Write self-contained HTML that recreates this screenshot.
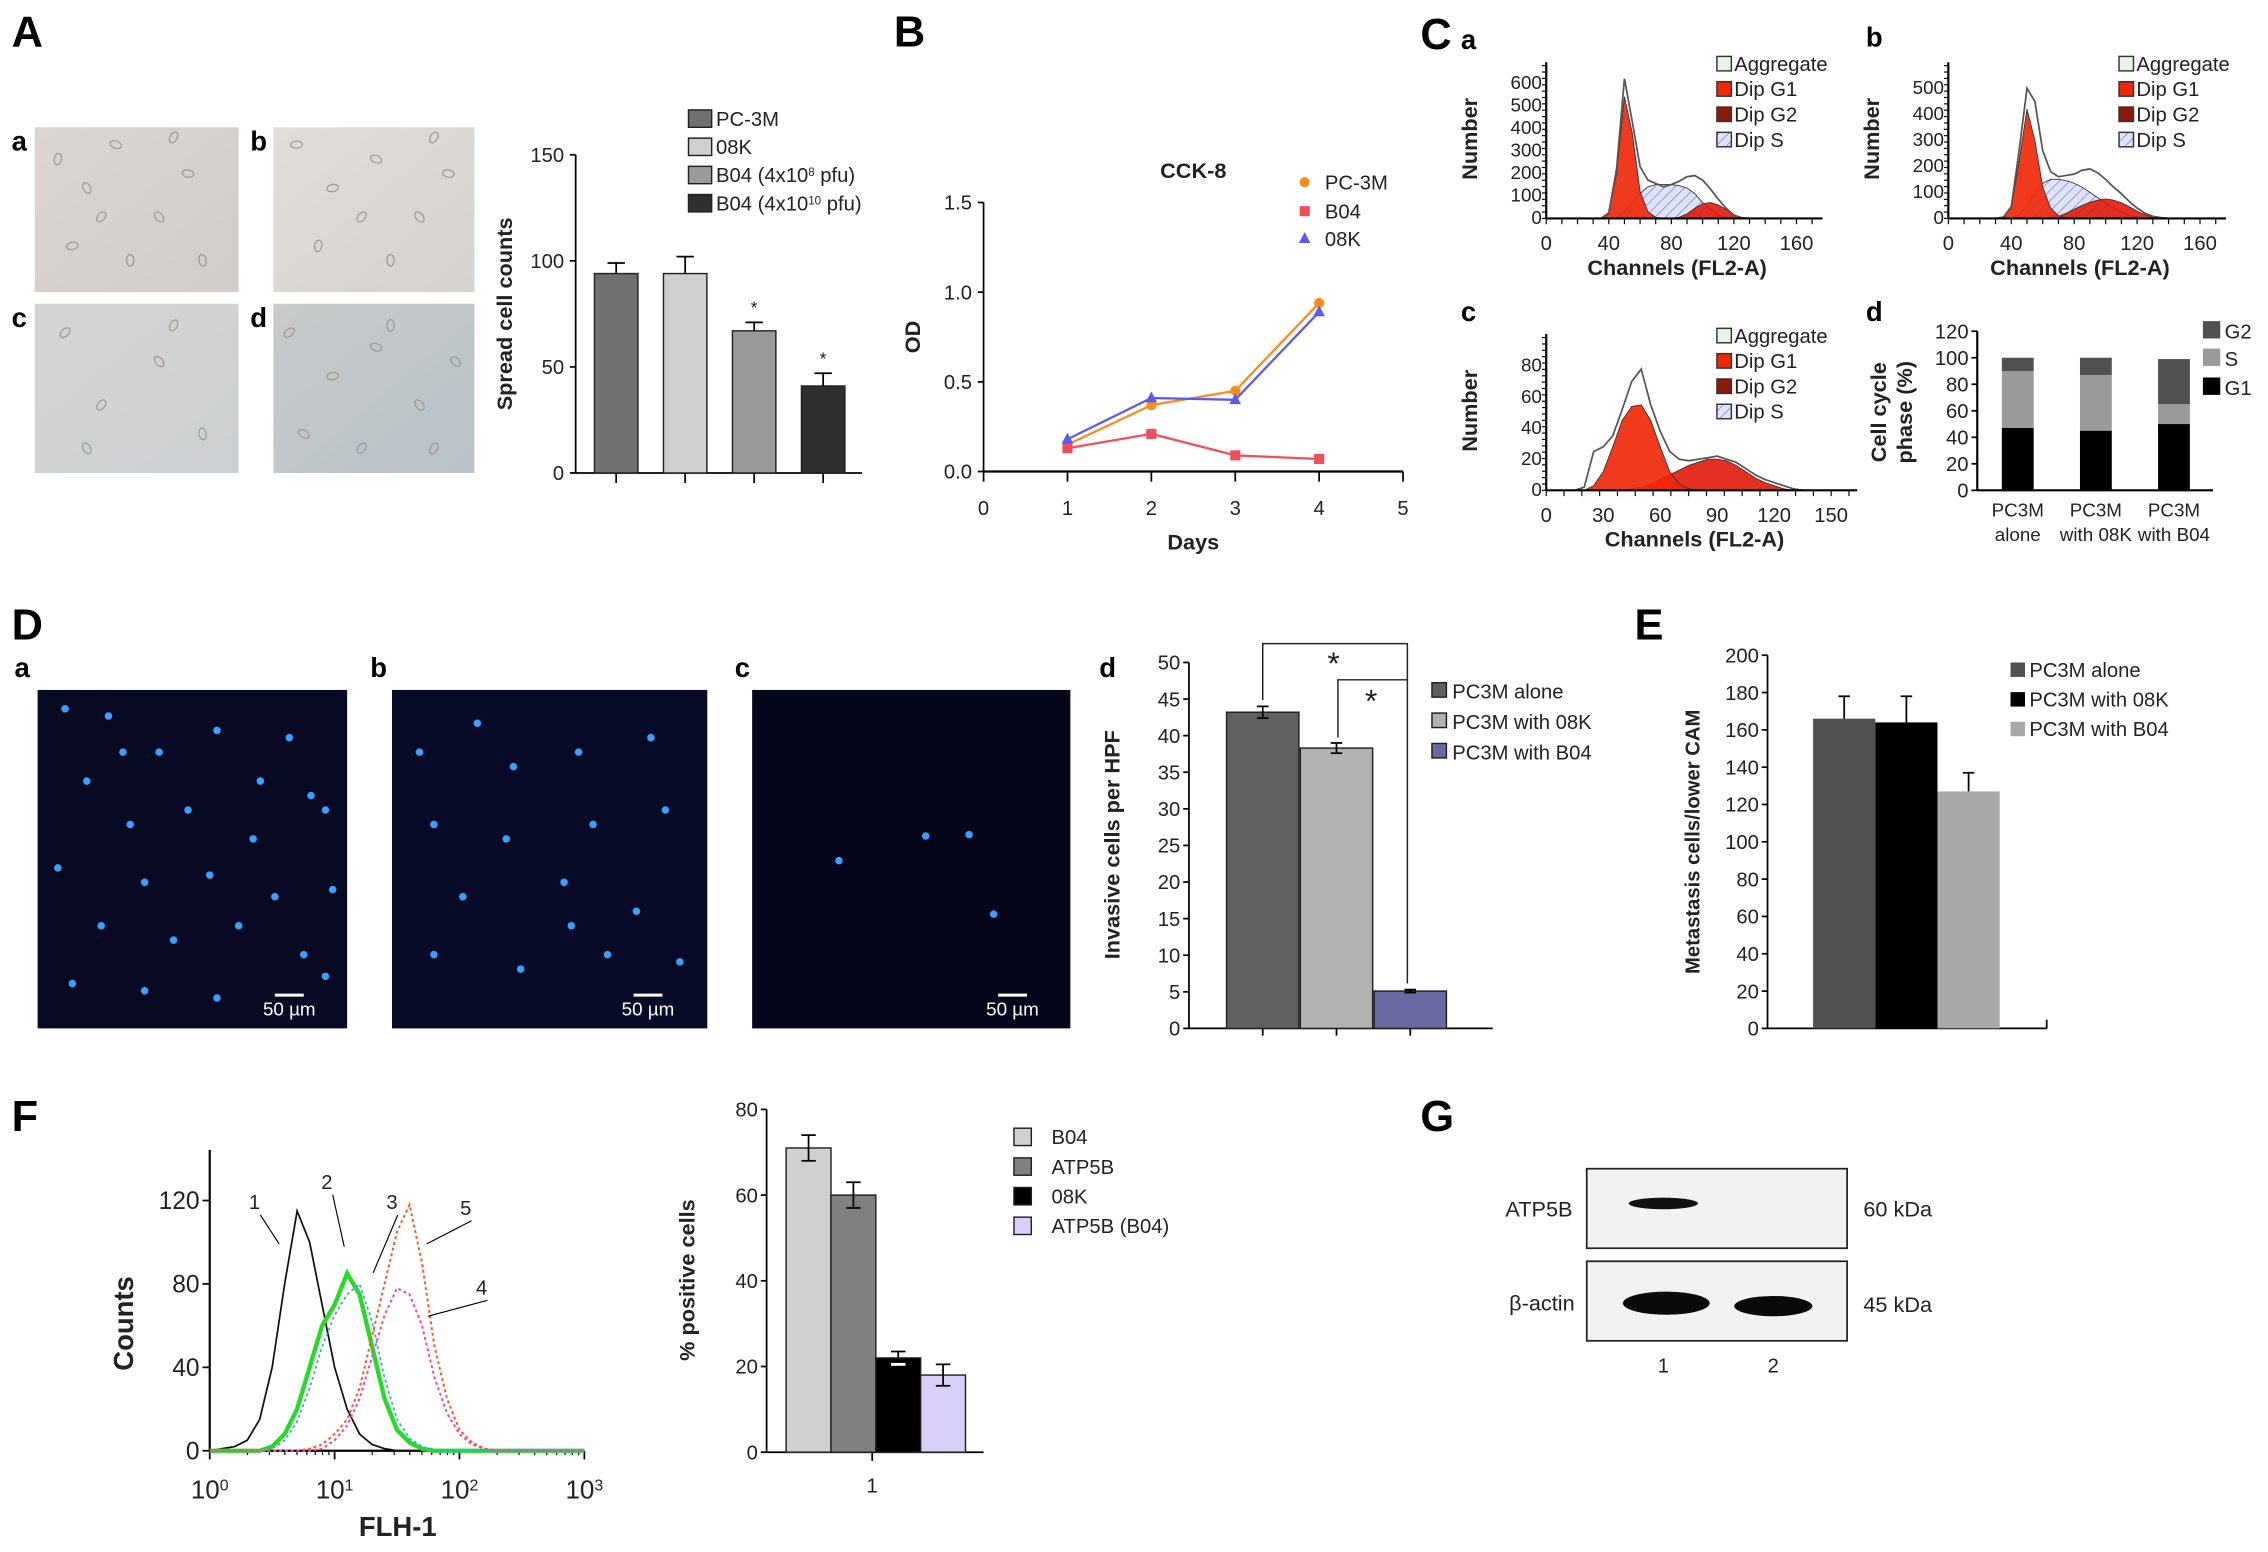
<!DOCTYPE html>
<html><head><meta charset="utf-8"><style>
html,body{margin:0;padding:0;background:#fff}
svg{display:block;font-family:"Liberation Sans",Arial,sans-serif}
</style></head><body>
<svg id="fig" width="2268" height="1552" viewBox="0 0 1568 1073" preserveAspectRatio="none" xmlns="http://www.w3.org/2000/svg">
<defs>
<pattern id="hatch" width="5" height="5" patternUnits="userSpaceOnUse" patternTransform="rotate(45)"><rect width="5" height="5" fill="#dfe4fb"/><line x1="0" y1="0" x2="0" y2="5" stroke="#8090e0" stroke-width="1.2"/></pattern>
<linearGradient id="ph1" x1="0" y1="0" x2="1" y2="1"><stop offset="0" stop-color="#dcd6d2"/><stop offset="1" stop-color="#d2ccc9"/></linearGradient>
<linearGradient id="ph2" x1="0" y1="0" x2="1" y2="1"><stop offset="0" stop-color="#e0dcd8"/><stop offset="1" stop-color="#d6d2cf"/></linearGradient>
<linearGradient id="ph3" x1="0" y1="0" x2="1" y2="1"><stop offset="0" stop-color="#d6d4d2"/><stop offset="1" stop-color="#ccd0d2"/></linearGradient>
<linearGradient id="ph4" x1="0" y1="0" x2="1" y2="1"><stop offset="0" stop-color="#c8cacb"/><stop offset="1" stop-color="#b8c2c8"/></linearGradient>
</defs>
<g font-weight="bold" font-size="30" fill="#000">
<text x="8" y="32">A</text>
<text x="618" y="32">B</text>
<text x="982" y="34">C</text>
<text x="8" y="442">D</text>
<text x="1130" y="442">E</text>
<text x="8" y="782">F</text>
<text x="982" y="782">G</text>
</g>
<g font-weight="bold" font-size="19" fill="#000">
<text x="8" y="104">a</text>
<text x="173" y="104">b</text>
<text x="8" y="226">c</text>
<text x="173" y="226">d</text>
<text x="1010" y="34">a</text>
<text x="1290" y="32">b</text>
<text x="1010" y="222">c</text>
<text x="1290" y="222">d</text>
<text x="10" y="468">a</text>
<text x="256" y="468">b</text>
<text x="508" y="468">c</text>
<text x="760" y="468">d</text>
</g>
<g id="photos">
<rect x="24" y="88" width="141" height="114" fill="url(#ph1)"/>
<rect x="189" y="88" width="139" height="114" fill="url(#ph2)"/>
<rect x="24" y="210" width="141" height="117" fill="url(#ph3)"/>
<rect x="189" y="210" width="139" height="117" fill="url(#ph4)"/>
</g>
<g id="fluor">
<rect x="26" y="477" width="214" height="234" fill="#070a22"/>
<rect x="271" y="477" width="218" height="234" fill="#080b28"/>
<rect x="520" y="477" width="220" height="234" fill="#04061a"/>
</g>
<g id="root"></g>
</svg>
<script>
// ===== DATA =====
const aCats=['PC-3M','08K','B04 (4x10^8 pfu)','B04 (4x10^10 pfu)'];
const aVals=[94,94,67,41];
const aErr=[5,8,4,6];
const aTicks=[0,50,100,150];

const bDays=[1,2,3,4];
const bPC3M=[0.15,0.37,0.45,0.94];
const bB04=[0.13,0.21,0.09,0.07];
const b08K=[0.18,0.41,0.40,0.89];
const bYTicks=[0.0,0.5,1.0,1.5];
const bXTicks=[0,1,2,3,4,5];

const caX=[30,35,40,45,50,55,60,65,70,75,80,85,90,95,100,105,110,115,120,125,130];
const caG1=[0,0,20,200,540,380,120,30,5,0,0,0,0,0,0,0,0,0,0,0,0];
const caS=[0,0,0,5,30,70,110,140,150,150,150,145,135,110,70,40,15,5,0,0,0];
const caG2=[0,0,0,0,0,0,0,0,0,0,0,5,20,45,65,70,60,40,15,3,0];
const caTot=[0,0,25,220,620,430,230,170,155,140,150,165,185,190,170,130,85,45,15,3,0];
const cbX=[25,30,35,40,45,50,55,60,65,70,75,80,85,90,95,100,105,110,115,120,125,130,135,140];
const cbG1=[0,0,5,40,220,420,300,120,40,10,2,0,0,0,0,0,0,0,0,0,0,0,0,0];
const cbS=[0,0,0,2,15,50,100,135,150,150,145,135,120,100,80,60,40,25,12,5,2,0,0,0];
const cbG2=[0,0,0,0,0,0,0,0,2,8,20,35,50,62,70,75,70,60,45,28,14,5,1,0];
const cbTot=[0,0,5,45,260,500,450,260,180,160,165,170,185,190,175,150,120,95,65,40,20,8,3,0];
const ccX=[15,20,25,30,35,40,45,50,55,60,65,70,75,80,85,90,95,100,105,110,115,120,125,130,135];
const ccG1=[0,0,3,12,28,45,54,55,45,28,12,4,1,0,0,0,0,0,0,0,0,0,0,0,0];
const ccG2=[0,0,0,0,0,0,1,2,4,7,10,13,16,18,20,20,19,16,12,8,5,3,1,0,0];
const ccTot=[0,2,25,28,35,52,70,78,55,38,25,20,19,20,21,22,20,18,14,10,7,5,3,1,0];
const cdCats=['PC3M alone','PC3M with 08K','PC3M with B04'];
const cdG1=[47,45,50];
const cdS=[43,42,15];
const cdG2=[10,13,34];

const ddCats=['PC3M alone','PC3M with 08K','PC3M with B04'];
const ddVals=[43.2,38.3,5.1];
const ddErr=[0.8,0.7,0.2];
const eCats=['PC3M alone','PC3M with 08K','PC3M with B04'];
const eVals=[166,164,127];
const eErr=[12,14,10];

const fLog=[0,0.1,0.2,0.3,0.4,0.5,0.6,0.7,0.8,0.9,1.0,1.1,1.2,1.3,1.4,1.5,1.6,1.7,1.8,1.9,2.0,2.1,2.2,2.3,2.4,2.5,2.6,2.7,2.8,2.9,3.0];
const fC1=[0,1,2,5,15,40,80,115,100,70,40,20,8,3,1,0,0,0,0,0,0,0,0,0,0,0,0,0,0,0,0];
const fC2=[0,0,0,0,0,2,8,20,40,60,70,85,75,50,25,10,4,1,0,0,0,0,0,0,0,0,0,0,0,0,0];
const fC3=[0,0,0,0,0,1,5,14,30,50,65,75,80,62,35,15,6,2,0,0,0,0,0,0,0,0,0,0,0,0,0];
const fC5=[0,0,0,0,0,0,0,0,1,3,8,15,30,55,80,105,118,90,50,25,10,4,1,0,0,0,0,0,0,0,0];
const fC4=[0,0,0,0,0,0,0,0,0,1,5,12,25,45,65,78,75,60,35,18,8,3,1,0,0,0,0,0,0,0,0];
const fCats=['B04','ATP5B','08K','ATP5B (B04)'];
const fVals=[71,60,22,18];
const fErr=[3,3,1.5,2.5];

// ===== HELPERS =====
const NS='http://www.w3.org/2000/svg';
const root=document.getElementById('root');
function mk(tag,attrs,name,parent){
  const el=document.createElementNS(NS,tag);
  for(const k in attrs) el.setAttribute(k,attrs[k]);
  
  
  (parent||root).appendChild(el);
  return el;
}
function line(x1,y1,x2,y2,name,w,c){return mk('line',{x1,y1,x2,y2,stroke:c||'#000','stroke-width':w||1.2},name);}
function txt(x,y,s,name,o){o=o||{};const t=mk('text',{x,y,'font-size':o.fs||14,'text-anchor':o.a||'middle',fill:o.fill||'#222','font-weight':o.b?'bold':'normal',transform:o.rot?`rotate(-90 ${x} ${y})`:''},name);t.textContent=s;return t;}
function lin(d0,d1,r0,r1){return v=>r0+(v-d0)/(d1-d0)*(r1-r0);}
function errbar(x,y1,y2,w,name){line(x,y1,x,y2,name,1.2);line(x-w,y2,x+w,y2,name+'-cap',1.2);}

(function(){
  const pts=[[40,110],[60,130],[80,100],[110,150],[130,120],[50,170],[90,180],[140,180],[70,150],[120,95],
  [205,100],[230,130],[260,110],[290,150],[310,120],[220,170],[270,180],[300,95],[250,150],
  [45,230],[70,280],[110,250],[140,300],[60,310],[120,225],
  [200,230],[230,260],[260,240],[290,280],[315,250],[210,300],[250,310],[300,310],[270,225]];
  const g=document.getElementById('photos');
  pts.forEach(p=>{mk('ellipse',{cx:p[0],cy:p[1],rx:4,ry:2.5,fill:'none',stroke:'#9c948f','stroke-width':0.8,transform:`rotate(${(p[0]*7)%180} ${p[0]} ${p[1]})`},'cell',g);});
  const f=document.getElementById('fluor');
  const dots=[[45,490],[75,495],[110,520],[150,505],[200,510],[215,550],[225,560],[60,540],[90,570],[130,560],[175,580],[40,600],[100,610],[145,605],[190,620],[230,615],[70,640],[120,650],[165,640],[210,660],[50,680],[100,685],[150,690],[225,675],[85,520],[180,540],
  [290,520],[330,500],[355,530],[400,520],[450,510],[300,570],[350,580],[410,570],[460,560],[320,620],[390,610],[440,630],[300,660],[360,670],[420,660],[470,665],[395,640],
  [580,595],[640,578],[670,577],[687,632]];
  dots.forEach(d=>{mk('circle',{cx:d[0],cy:d[1],r:2.6,fill:'#3aa0ff'},'nucleus',f);});
  [[200,240,'a'],[448,489,'b'],[700,740,'c']].forEach(s=>{
    mk('line',{x1:s[0]-10,y1:688,x2:s[0]+10,y2:688,stroke:'#fff','stroke-width':2},'scale-bar-'+s[2],f);
    const t=mk('text',{x:s[0],y:702,'font-size':13,'text-anchor':'middle',fill:'#fff'},'scale-label-'+s[2],f);t.textContent='50 µm';
  });
})();

// ===== PANEL A =====
(function(){
  const y=lin(0,150,327,107), ax=398;
  line(ax,107,ax,327,'a-y-axis');line(ax,327,596,327,'a-x-axis');
  aTicks.forEach(t=>{line(ax-4,y(t),ax,y(t),'a-y-tick');txt(ax-8,y(t)+5,String(t),'a-y-tick-label',{a:'end',fs:14});});
  txt(354,217,'Spread cell counts','a-y-axis-title',{rot:1,b:1,fs:15});
  const cols=['#707070','#cfcfcf','#9a9a9a','#2f2f2f'];
  aVals.forEach((v,i)=>{
    const cx=426+i*47.7;
    mk('rect',{x:cx-15,y:y(v),width:30,height:327-y(v),fill:cols[i],stroke:'#222','stroke-width':1},'a-bar-'+i);
    errbar(cx,y(v),y(v+aErr[i]),6,'a-error-'+i);
    line(cx,327,cx,334,'a-x-tick');
    if(i>=2) txt(cx,y(v+aErr[i])-6,'*','a-significance-star',{fs:12});
  });
  const lab=['PC-3M','08K','B04 (4x10<tspan baseline-shift="super" font-size="8">8</tspan> pfu)','B04 (4x10<tspan baseline-shift="super" font-size="8">10</tspan> pfu)'];
  aCats.forEach((c,i)=>{
    const ly=76+i*19.5;
    mk('rect',{x:476,y:ly,width:16,height:12,fill:cols[i],stroke:'#222','stroke-width':1},'a-legend-swatch');
    const t=txt(495,ly+11,'','a-legend-entry',{a:'start',fs:14});t.innerHTML=lab[i];
  });
})();

// ===== PANEL B =====
(function(){
  const x=lin(0,5,680,970), y=lin(0,1.5,326,140);
  line(680,140,680,326,'b-y-axis');line(680,326,970,326,'b-x-axis',1.6);
  bYTicks.forEach(t=>{line(676,y(t),680,y(t),'b-y-tick');txt(672,y(t)+5,t.toFixed(1),'b-y-tick-label',{a:'end',fs:14});});
  bXTicks.forEach(t=>{line(x(t),326,x(t),333,'b-x-tick');txt(x(t),356,String(t),'b-x-tick-label',{fs:14});});
  txt(636,233,'OD','b-y-axis-title',{rot:1,b:1,fs:15});
  txt(825,380,'Days','b-x-axis-title',{b:1,fs:15});
  txt(825,123,'CCK-8','b-chart-title',{b:1,fs:15});
  const S=[[bPC3M,'#ff8c1a','circle','pc3m'],[bB04,'#f0505a','square','b04'],[b08K,'#5a5af0','triangle','08k']];
  function marker(px,py,s,name){
    if(s[2]=='circle') mk('circle',{cx:px,cy:py,r:3.5,fill:s[1]},name);
    else if(s[2]=='square') mk('rect',{x:px-3.5,y:py-3.5,width:7,height:7,fill:s[1]},name);
    else mk('polygon',{points:`${px},${py-4.5} ${px-4},${py+3} ${px+4},${py+3}`,fill:s[1]},name);
  }
  S.forEach(s=>{
    mk('polyline',{points:bDays.map((d,i)=>x(d)+','+y(s[0][i])).join(' '),fill:'none',stroke:s[1],'stroke-width':1.6},'b-line-'+s[3]);
    bDays.forEach((d,i)=>marker(x(d),y(s[0][i]),s,'b-point-'+s[3]));
  });
  [['PC-3M',131],['B04',151],['08K',170]].forEach((l,i)=>{
    marker(902,l[1]-5,S[i],'b-legend-marker');
    txt(916,l[1],l[0],'b-legend-entry',{a:'start',fs:14});
  });
})();

// ===== PANEL C flow =====
function flow(X,G1,S,G2,T,ox,y0,yTop,yMax,xMax,yTicks,xTicks,xEnd,key){
  const x=lin(0,xMax,ox,xEnd), y=lin(0,yMax,y0,yTop);
  const area=(arr)=>'M'+x(X[0])+','+y0+' '+X.map((v,i)=>'L'+x(v)+','+y(arr[i])).join(' ')+' L'+x(X[X.length-1])+','+y0+'Z';
  if(S) mk('path',{d:area(S),fill:'url(#hatch)',stroke:'#333','stroke-width':0.6},'c'+key+'-dip-s');
  mk('path',{d:area(G2),fill:'#e01a0a','fill-opacity':0.9,stroke:'#333','stroke-width':0.6},'c'+key+'-dip-g2');
  mk('path',{d:area(G1),fill:'#f0280a','fill-opacity':0.92,stroke:'#333','stroke-width':0.6},'c'+key+'-dip-g1');
  mk('polyline',{points:X.map((v,i)=>x(v)+','+y(T[i])).join(' '),fill:'none',stroke:'#555','stroke-width':1.2},'c'+key+'-aggregate');
  line(ox,y0-108,ox,y0,'c'+key+'-y-axis',1.5);line(ox,y0,xEnd+18,y0,'c'+key+'-x-axis',1.5);
  for(let yy=y0;yy>=y0-108;yy-=4.4) line(ox-3,yy,ox,yy,'c'+key+'-y-minor',0.8);
  for(let xx=ox;xx<=xEnd+18;xx+=(xEnd-ox)/16) line(xx,y0,xx,y0+4,'c'+key+'-x-minor',0.8);
  yTicks.forEach(t=>txt(ox-3,y(t)+4,String(t),'c'+key+'-y-tick-label',{a:'end',fs:13}));
  xTicks.forEach(t=>txt(x(t),y0+22,String(t),'c'+key+'-x-tick-label',{fs:14}));
  txt((ox+xEnd)/2+4,y0+39,'Channels (FL2-A)','c'+key+'-x-axis-title',{b:1,fs:15});
  txt(ox-48,y0-55,'Number','c'+key+'-y-axis-title',{rot:1,b:1,fs:15});
  const lx=ox+118, ly=y0-112;
  [['Aggregate','#e8f4e8'],['Dip G1','#f0280a'],['Dip G2','#8a1a0a'],['Dip S','url(#hatch)']].forEach((l,i)=>{
    mk('rect',{x:lx,y:ly+i*17.5,width:10,height:10,fill:l[1],stroke:'#333','stroke-width':1},'c'+key+'-legend-swatch');
    txt(lx+12,ly+i*17.5+10,l[0],'c'+key+'-legend-entry',{a:'start',fs:14});
  });
}
flow(caX,caG1,caS,caG2,caTot,1069,151,57.5,600,160,[0,100,200,300,400,500,600],[0,40,80,120,160],1242,'a');
flow(cbX,cbG1,cbS,cbG2,cbTot,1347,151,61,500,160,[0,100,200,300,400,500],[0,40,80,120,160],1521,'b');
flow(ccX,ccG1,null,ccG2,ccTot,1069,339,253,80,150,[0,20,40,60,80],[0,30,60,90,120,150],1266,'c');

// ===== PANEL Cd =====
(function(){
  const y=lin(0,120,339,229), ax=1367;
  line(ax,229,ax,339,'cd-y-axis',1.5);line(ax,339,1530,339,'cd-x-axis',1.5);
  [0,20,40,60,80,100,120].forEach(t=>{line(ax-4,y(t),ax,y(t),'cd-y-tick');txt(ax-6,y(t)+5,String(t),'cd-y-tick-label',{a:'end',fs:14});});
  txt(1304,285,'Cell cycle','cd-y-axis-title',{rot:1,b:1,fs:15});
  txt(1322,285,'phase (%)','cd-y-axis-title-2',{rot:1,b:1,fs:15});
  cdCats.forEach((c,i)=>{
    const cx=1395+i*54;
    const a=cdG1[i],b=a+cdS[i],d=b+cdG2[i];
    mk('rect',{x:cx-11,y:y(a),width:22,height:339-y(a),fill:'#000'},'cd-bar-g1-'+i);
    mk('rect',{x:cx-11,y:y(b),width:22,height:y(a)-y(b),fill:'#9a9a9a'},'cd-bar-s-'+i);
    mk('rect',{x:cx-11,y:y(d),width:22,height:y(b)-y(d),fill:'#505050'},'cd-bar-g2-'+i);
    const p=c.split(' ');
    txt(cx,357,p[0],'cd-x-label',{fs:13});txt(cx,374,p.slice(1).join(' '),'cd-x-label-2',{fs:13});
  });
  [['G2','#505050',222],['S','#9a9a9a',241],['G1','#000',261]].forEach(l=>{
    mk('rect',{x:1523,y:l[2],width:12,height:12,fill:l[1]},'cd-legend-swatch');
    txt(1538,l[2]+12,l[0],'cd-legend-entry',{a:'start',fs:14});
  });
})();

// ===== PANEL Dd =====
(function(){
  const y=lin(0,50,711,458), ax=822;
  line(ax,458,ax,711,'dd-y-axis');line(ax,711,1032,711,'dd-x-axis');
  for(let t=0;t<=50;t+=5){line(ax-4,y(t),ax,y(t),'dd-y-tick');txt(ax-6,y(t)+5,String(t),'dd-y-tick-label',{a:'end',fs:14});}
  txt(774,584,'Invasive cells per HPF','dd-y-axis-title',{rot:1,b:1,fs:15});
  const cols=['#606060','#b2b2b2','#6a6aa2'];
  ddVals.forEach((v,i)=>{
    const cx=873+i*51;
    mk('rect',{x:cx-25,y:y(v),width:50,height:711-y(v),fill:cols[i],stroke:'#222','stroke-width':1},'dd-bar-'+i);
    errbar(cx,y(v-ddErr[i]),y(v+ddErr[i]),4,'dd-error-'+i);line(cx-4,y(v-ddErr[i]),cx+4,y(v-ddErr[i]),'dd-error-low');
    line(cx,711,cx,716,'dd-x-tick');
  });
  mk('polyline',{points:'873,484 873,445 973,445 973,680',fill:'none',stroke:'#222','stroke-width':1},'dd-bracket-1');
  mk('polyline',{points:'925,510 925,470 973,470',fill:'none',stroke:'#222','stroke-width':1},'dd-bracket-2');
  txt(922,466,'*','dd-star-1',{fs:22});txt(948,492,'*','dd-star-2',{fs:22});
  ddCats.forEach((c,i)=>{
    mk('rect',{x:990,y:472+i*21,width:10,height:10,fill:cols[i],stroke:'#222','stroke-width':1},'dd-legend-swatch');
    txt(1004,483+i*21,c,'dd-legend-entry',{a:'start',fs:14});
  });
})();

// ===== PANEL E =====
(function(){
  const y=lin(0,200,711,453), ax=1222;
  line(ax,453,ax,711,'e-y-axis');line(ax,711,1415,711,'e-x-axis');line(1415,705,1415,711,'e-x-end');
  for(let t=0;t<=200;t+=20){line(ax-4,y(t),ax,y(t),'e-y-tick');txt(ax-6,y(t)+5,String(t),'e-y-tick-label',{a:'end',fs:14});}
  txt(1175,582,'Metastasis cells/lower CAM','e-y-axis-title',{rot:1,b:1,fs:14});
  const cols=['#505050','#000','#a8a8a8'];
  eVals.forEach((v,i)=>{
    const cx=1275+i*43;
    mk('rect',{x:cx-21.5,y:y(v),width:43,height:711-y(v),fill:cols[i]},'e-bar-'+i);
    line(cx,y(v),cx,y(v+eErr[i]),'e-error-'+i);line(cx-4,y(v+eErr[i]),cx+4,y(v+eErr[i]),'e-error-cap');
  });
  eCats.forEach((c,i)=>{
    mk('rect',{x:1390,y:458+i*20.5,width:10,height:10,fill:cols[i]},'e-legend-swatch');
    txt(1403,468+i*20.5,c,'e-legend-entry',{a:'start',fs:14});
  });
})();

// ===== PANEL F histogram =====
(function(){
  const x=lin(0,3,145,404), y=lin(0,120,1003,830);
  line(145,795,145,1003,'f-y-axis',1.5);line(145,1003,404,1003,'f-x-axis',1.5);
  [0,40,80,120].forEach(t=>{line(140,y(t),145,y(t),'f-y-tick');txt(138,y(t)+6,String(t),'f-y-tick-label',{a:'end',fs:17});});
  for(let d=0;d<=3;d++){line(x(d),1003,x(d),1009,'f-x-tick');
    const t=txt(x(d),1036,'','f-x-tick-label',{fs:18});t.innerHTML='10<tspan baseline-shift="super" font-size="11">'+d+'</tspan>';
    if(d<3) for(let m=2;m<10;m++) line(x(d+Math.log10(m)),1003,x(d+Math.log10(m)),1006,'f-x-minor',0.8);}
  txt(275,1062,'FLH-1','f-x-axis-title',{b:1,fs:19});
  txt(92,915,'Counts','f-y-axis-title',{rot:1,b:1,fs:19});
  const C=[[fC1,'#111',1.2,'','1'],[fC2,'#22dd22',3,'','2'],[fC3,'#3aa0ff',1.2,'2,2','3'],[fC5,'#ff5a1a',1.4,'2,2','5'],[fC4,'#ff40b0',1.4,'2,2','4']];
  C.forEach(c=>mk('polyline',{points:fLog.map((l,i)=>x(l)+','+y(c[0][i])).join(' '),fill:'none',stroke:c[1],'stroke-width':c[2],'stroke-dasharray':c[3]},'f-curve-'+c[4]));
  [[176,836,193,860,'1'],[226,822,238,862,'2'],[271,836,258,880,'3'],[322,840,295,860,'5'],[333,895,296,910,'4']].forEach(l=>{
    line(l[2],l[3],l[0]+4,l[1]+4,'f-leader-'+l[4],0.8);txt(l[0],l[1],l[4],'f-curve-label-'+l[4],{fs:14});
  });
})();

// ===== PANEL F bars =====
(function(){
  const y=lin(0,80,1004,767), ax=530;
  line(ax,767,ax,1004,'fb-y-axis');line(ax,1004,680,1004,'fb-x-axis');line(603,1004,603,1010,'fb-x-tick');
  [0,20,40,60,80].forEach(t=>{line(ax-4,y(t),ax,y(t),'fb-y-tick');txt(ax-6,y(t)+5,String(t),'fb-y-tick-label',{a:'end',fs:14});});
  txt(603,1032,'1','fb-x-tick-label',{fs:14});
  txt(480,885,'% positive cells','fb-y-axis-title',{rot:1,b:1,fs:15});
  const cols=['#d0d0d0','#808080','#000','#d8d0f8'];
  fVals.forEach((v,i)=>{
    const cx=559+i*31;
    mk('rect',{x:cx-15.5,y:y(v),width:31,height:1004-y(v),fill:cols[i],stroke:'#222','stroke-width':1},'fb-bar-'+i);
    errbar(cx,y(v-fErr[i]),y(v+fErr[i]),5,'fb-error-'+i);line(cx-5,y(v-fErr[i]),cx+5,y(v-fErr[i]),'fb-error-low',1.2);
    if(i==2){mk('rect',{x:cx-5,y:y(v-fErr[i])-1,width:10,height:2,fill:'#fff'},'fb-error-highlight');}
  });
  fCats.forEach((c,i)=>{
    mk('rect',{x:701,y:780+i*20.5,width:12,height:12,fill:cols[i],stroke:'#222','stroke-width':1},'fb-legend-swatch');
    txt(727,791+i*20.5,c,'fb-legend-entry',{a:'start',fs:14});
  });
})();

// ===== PANEL G =====
(function(){
  mk('rect',{x:1097,y:808,width:180,height:55,fill:'#f2f2f2',stroke:'#222','stroke-width':1.2},'g-blot-atp5b');
  mk('rect',{x:1097,y:872,width:180,height:55,fill:'#f2f2f2',stroke:'#222','stroke-width':1.2},'g-blot-actin');
  mk('ellipse',{cx:1150,cy:832,rx:24,ry:4,fill:'#111'},'g-band-atp5b-1');
  mk('ellipse',{cx:1152,cy:901,rx:30,ry:8,fill:'#0a0a0a'},'g-band-actin-1');
  mk('ellipse',{cx:1226,cy:903,rx:27,ry:7,fill:'#0a0a0a'},'g-band-actin-2');
  txt(1064,841,'ATP5B','g-label-atp5b',{fs:15});
  txt(1066,906,'β-actin','g-label-actin',{fs:15});
  txt(1312,841,'60 kDa','g-label-60kda',{fs:15});
  txt(1312,907,'45 kDa','g-label-45kda',{fs:15});
  txt(1150,949,'1','g-lane-1',{fs:14});
  txt(1226,949,'2','g-lane-2',{fs:14});
})();
</script>
</body></html>
